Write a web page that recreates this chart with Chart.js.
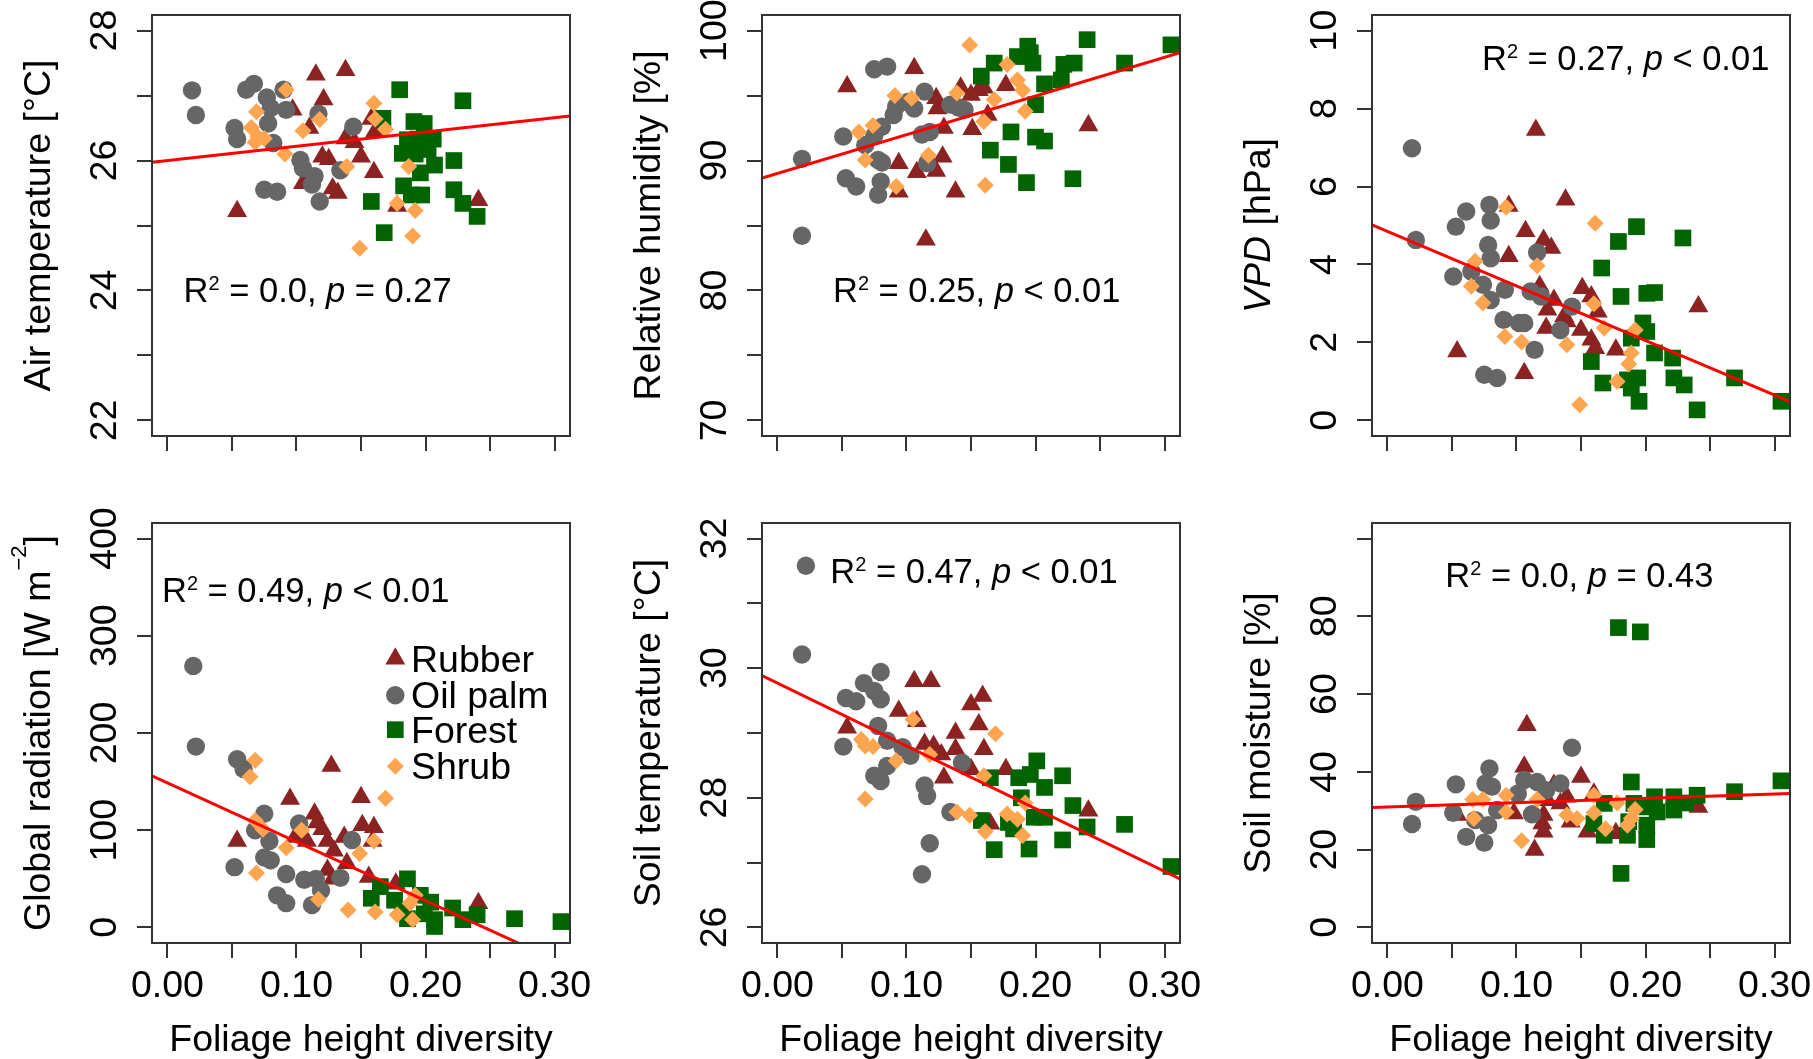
<!DOCTYPE html>
<html><head><meta charset="utf-8">
<script src="https://cdn.jsdelivr.net/npm/chart.js"></script>
<style>
html,body{margin:0;padding:0;background:#fff;}
#wrap{position:relative;width:1813px;height:1059px;overflow:hidden;background:#fff;}
#wrap canvas{position:absolute;}
</style></head>
<body><div id="wrap"></div>
<script>
// ---------------- DATA ----------------
const xLimits = [0, 0.3];
const xTicks = [0, 0.05, 0.10, 0.15, 0.20, 0.25, 0.30];
const xTickLabels = ['0.00', '', '0.10', '', '0.20', '', '0.30'];
const xTitle = 'Foliage height diversity';
const seriesNames = ['Rubber', 'Oil palm', 'Forest', 'Shrub'];

// Air temperature
const airLim = [22, 28];
const airTicks = [22, 23, 24, 25, 26, 27, 28];
const airTickLabels = ['22', '', '24', '', '26', '', '28'];
const airFit = [26.0, 2.2];
const airRubber = [[0.054,25.22],[0.115,27.32],[0.138,27.39],[0.121,26.94],[0.097,26.78],[0.110,26.50],[0.120,26.06],[0.125,26.02],[0.150,26.06],[0.160,25.82],[0.105,25.65],[0.128,25.57],[0.132,25.50],[0.138,26.34],[0.145,26.28],[0.158,26.64],[0.161,26.45],[0.178,25.30],[0.241,25.39]];
const airOilPalm = [[0.019,27.08],[0.022,26.70],[0.052,26.50],[0.054,26.33],[0.061,27.09],[0.067,27.18],[0.077,26.97],[0.080,26.81],[0.078,26.57],[0.082,26.27],[0.090,27.09],[0.092,26.78],[0.075,25.55],[0.085,25.52],[0.103,26.01],[0.105,25.88],[0.114,25.76],[0.112,25.63],[0.118,25.37],[0.117,26.72],[0.134,25.85],[0.144,26.52]];
const airForest = [[0.180,27.09],[0.229,26.92],[0.167,26.65],[0.191,26.60],[0.199,26.57],[0.186,26.32],[0.194,26.33],[0.206,26.33],[0.182,26.11],[0.192,26.10],[0.202,26.17],[0.222,26.00],[0.207,25.93],[0.196,25.81],[0.183,25.61],[0.189,25.47],[0.197,25.47],[0.222,25.55],[0.229,25.34],[0.240,25.14],[0.158,25.37],[0.168,24.89]];
const airShrub = [[0.092,27.09],[0.069,26.75],[0.065,26.51],[0.070,26.37],[0.068,26.28],[0.075,26.34],[0.105,26.46],[0.118,26.63],[0.091,26.10],[0.139,25.91],[0.160,26.88],[0.161,26.64],[0.169,26.48],[0.187,25.91],[0.178,25.34],[0.192,25.23],[0.190,24.84],[0.149,24.65]];

// Relative humidity
const rhLim = [70, 100];
const rhTicks = [70, 75, 80, 85, 90, 95, 100];
const rhTickLabels = ['70', '', '80', '', '90', '', '100'];
const rhFit = [89.0, 29.8];
const rhRubber = [[0.054,95.7],[0.106,97.1],[0.123,94.8],[0.124,94.0],[0.129,92.5],[0.094,89.8],[0.108,89.1],[0.123,89.2],[0.128,90.3],[0.094,87.6],[0.138,87.6],[0.115,83.9],[0.142,95.6],[0.150,95.05],[0.156,95.4],[0.160,95.6],[0.151,92.4],[0.163,93.5],[0.177,95.8],[0.241,92.7]];
const rhOilPalm = [[0.019,90.13],[0.019,84.21],[0.051,91.85],[0.053,88.64],[0.061,88.0],[0.075,97.03],[0.085,97.23],[0.068,91.2],[0.075,91.9],[0.081,92.6],[0.078,90.05],[0.081,89.85],[0.080,88.38],[0.078,87.36],[0.090,93.5],[0.092,94.15],[0.101,94.5],[0.106,94.0],[0.114,95.3],[0.112,92.0],[0.118,92.2],[0.116,89.8],[0.134,94.3],[0.145,93.9],[0.140,94.1]];
const rhForest = [[0.158,96.5],[0.168,97.5],[0.186,98.0],[0.194,98.8],[0.196,98.3],[0.198,97.5],[0.240,99.3],[0.305,98.9],[0.269,97.5],[0.222,97.4],[0.230,97.5],[0.220,96.2],[0.207,95.9],[0.200,94.3],[0.181,92.2],[0.200,91.8],[0.207,91.5],[0.165,90.8],[0.179,89.7],[0.193,88.3],[0.229,88.6]];
const rhShrub = [[0.149,98.9],[0.178,97.4],[0.186,96.2],[0.190,95.4],[0.168,94.7],[0.139,95.2],[0.091,95.0],[0.104,94.8],[0.063,92.2],[0.074,92.7],[0.068,90.05],[0.117,90.4],[0.092,88.0],[0.160,93.0],[0.192,93.8],[0.161,88.1]];

// VPD
const vpdLim = [0, 10];
const vpdTicks = [0, 2, 4, 6, 8, 10];
const vpdTickLabels = ['0', '2', '4', '6', '8', '10'];
const vpdFit = [4.85, -14.0];
const vpdRubber = [[0.115,7.45],[0.138,5.66],[0.094,5.50],[0.107,4.85],[0.121,4.63],[0.127,4.42],[0.094,4.21],[0.118,3.44],[0.054,1.77],[0.106,1.21],[0.151,3.39],[0.158,3.18],[0.163,2.79],[0.124,2.84],[0.129,3.09],[0.123,2.37],[0.137,2.67],[0.139,2.54],[0.150,2.32],[0.158,2.07],[0.161,1.85],[0.177,1.81],[0.241,2.92]];
const vpdOilPalm = [[0.019,6.98],[0.022,4.63],[0.053,4.97],[0.061,5.36],[0.079,5.53],[0.080,5.13],[0.078,4.50],[0.080,4.16],[0.051,3.69],[0.065,3.82],[0.074,3.48],[0.080,3.09],[0.091,3.35],[0.090,2.58],[0.102,2.50],[0.106,2.50],[0.114,1.81],[0.075,1.17],[0.085,1.09],[0.116,4.31],[0.111,3.31],[0.119,3.18],[0.134,2.32],[0.143,2.92]];
const vpdForest = [[0.193,4.97],[0.179,4.59],[0.229,4.68],[0.166,3.91],[0.181,3.18],[0.201,3.26],[0.207,3.28],[0.198,2.50],[0.201,2.28],[0.189,2.11],[0.207,1.73],[0.221,1.60],[0.158,1.51],[0.222,1.09],[0.230,0.91],[0.167,0.96],[0.186,1.04],[0.194,1.09],[0.189,0.83],[0.195,0.49],[0.240,0.27],[0.269,1.09],[0.305,0.49]];
const vpdShrub = [[0.092,5.47],[0.161,5.06],[0.068,4.08],[0.116,3.97],[0.065,3.44],[0.074,3.01],[0.091,2.15],[0.104,2.01],[0.139,1.94],[0.160,2.99],[0.168,2.37],[0.192,2.32],[0.189,1.73],[0.187,1.45],[0.178,1.00],[0.149,0.40]];

// Global radiation
const radLim = [0, 400];
const radTicks = [0, 100, 200, 300, 400];
const radTickLabels = ['0', '100', '200', '300', '400'];
const radFit = [148.7, -606];
const radRubber = [[0.127,166],[0.095,132],[0.150,134],[0.054,89],[0.114,117],[0.116,108],[0.120,101],[0.124,89],[0.129,79],[0.151,105],[0.160,103],[0.137,93],[0.159,89],[0.099,93],[0.108,89],[0.124,59],[0.128,50],[0.139,66],[0.156,52],[0.177,45],[0.241,25]];
const radOilPalm = [[0.020,269],[0.022,186],[0.054,173],[0.059,163],[0.075,117],[0.068,100],[0.079,89],[0.052,62],[0.075,72],[0.080,69],[0.092,55],[0.085,33],[0.092,25],[0.102,107],[0.106,49],[0.115,50],[0.119,38],[0.112,23],[0.134,51],[0.143,90]];
const radForest = [[0.158,30],[0.186,50],[0.165,42],[0.176,28],[0.182,18],[0.186,9],[0.196,33],[0.204,26],[0.199,14],[0.207,8],[0.207,1],[0.221,20],[0.229,8],[0.240,13],[0.269,9],[0.305,6]];
const radShrub = [[0.068,172],[0.064,155],[0.169,133],[0.068,110],[0.074,101],[0.104,100],[0.092,82],[0.149,76],[0.160,89],[0.069,56],[0.117,29],[0.140,18],[0.161,16],[0.178,13],[0.188,25],[0.190,8],[0.192,33]];

// Soil temperature
const stLim = [26, 32];
const stTicks = [26, 27, 28, 29, 30, 31, 32];
const stTickLabels = ['26', '', '28', '', '30', '', '32'];
const stFit = [29.77, -9.68];
const stRubber = [[0.106,29.80],[0.119,29.80],[0.150,29.44],[0.159,29.57],[0.094,29.34],[0.054,29.08],[0.108,29.18],[0.138,29.00],[0.156,29.13],[0.114,28.83],[0.121,28.80],[0.127,28.67],[0.138,28.75],[0.160,28.75],[0.129,28.31],[0.150,28.44],[0.177,28.44],[0.165,27.60],[0.241,27.80]];
const stOilPalm = [[0.019,30.21],[0.022,31.58],[0.080,29.94],[0.067,29.77],[0.075,29.65],[0.080,29.52],[0.053,29.54],[0.061,29.49],[0.078,29.11],[0.085,28.88],[0.051,28.79],[0.075,28.34],[0.080,28.26],[0.085,28.49],[0.097,28.78],[0.103,28.65],[0.114,28.19],[0.116,28.03],[0.143,28.54],[0.134,27.78],[0.118,27.30],[0.112,26.82]];
const stForest = [[0.201,28.57],[0.221,28.34],[0.187,28.31],[0.196,28.36],[0.207,28.16],[0.165,28.31],[0.189,28.00],[0.229,27.88],[0.199,27.70],[0.207,27.70],[0.158,27.65],[0.179,27.62],[0.183,27.52],[0.240,27.55],[0.269,27.59],[0.221,27.35],[0.168,27.20],[0.195,27.21],[0.305,26.94]];
const stShrub = [[0.105,29.21],[0.169,28.99],[0.065,28.90],[0.068,28.80],[0.074,28.79],[0.092,28.57],[0.068,27.98],[0.118,28.67],[0.160,28.34],[0.139,27.78],[0.149,27.73],[0.161,27.48],[0.178,27.75],[0.186,27.67],[0.192,27.92],[0.190,27.42]];

// Soil moisture
const smLim = [0, 100];
const smTicks = [0, 20, 40, 60, 80, 100];
const smTickLabels = ['0', '20', '40', '60', '80', ''];
const smFit = [30.98, 11.1];
const smRubber = [[0.108,52.0],[0.106,41.3],[0.150,38.7],[0.129,36.6],[0.139,33.6],[0.160,34.4],[0.124,32.7],[0.134,31.9],[0.054,28.9],[0.098,29.3],[0.121,28.9],[0.120,26.7],[0.121,24.6],[0.114,19.9],[0.142,27.2],[0.155,24.6],[0.177,24.2],[0.241,31.0]];
const smOilPalm = [[0.019,26.6],[0.022,32.3],[0.053,36.8],[0.051,29.5],[0.061,23.3],[0.075,21.8],[0.079,40.9],[0.076,37.0],[0.081,36.2],[0.068,27.6],[0.078,26.3],[0.085,30.2],[0.101,34.4],[0.106,37.9],[0.116,37.4],[0.123,35.3],[0.112,29.1],[0.134,37.0],[0.143,46.2]];
const smForest = [[0.179,77.1],[0.196,76.0],[0.305,37.7],[0.189,37.4],[0.269,34.9],[0.240,34.0],[0.222,33.6],[0.231,32.0],[0.207,33.6],[0.201,31.0],[0.209,29.7],[0.191,31.9],[0.168,31.9],[0.222,30.2],[0.160,26.7],[0.187,27.2],[0.201,26.3],[0.168,23.7],[0.186,23.7],[0.201,22.6],[0.181,13.9]];
const smShrub = [[0.066,32.9],[0.074,32.9],[0.092,34.0],[0.067,28.0],[0.092,29.7],[0.116,32.9],[0.104,22.3],[0.139,28.9],[0.147,28.0],[0.160,34.0],[0.160,29.5],[0.169,25.4],[0.178,32.0],[0.192,30.3],[0.189,28.0],[0.186,26.3]];

// ---------------- STYLE / LAYOUT ----------------
const FAMILY = "'Liberation Sans', Arial, Helvetica, sans-serif";
const AXIS_COLOR = '#333333';
const TICK_SIZE = 37.5;
const TITLE_SIZE = 37.5;
const LEGEND_SIZE = 37.5;
const R2_SIZE = 34.5;
const seriesStyles = [
  {color:'#8B2323', pointStyle:'triangle', radius:11.5},
  {color:'#666666', pointStyle:'circle', radius:9.2},
  {color:'#006400', pointStyle:'rect', radius:11.8},
  {color:'#FFA54F', pointStyle:'rectRot', radius:8.5}
];
const plotLefts = [152, 762, 1372];
const plotWidth = 418;
const plotTops = [15, 523];
const plotHeights = [421, 420];
const canvasTops = [0, 505];
const canvasHeights = [500, 554];
const yAxisWidth = 152;
const canvasWidth = 590;

const panels = [
  {col:0,row:0,series:[airRubber,airOilPalm,airForest,airShrub],lim:airLim,ticks:airTicks,labels:airTickLabels,fit:airFit,r2:'0.0',p:'= 0.27',r2At:[31.6,286.7],
   title:[{t:'Air temperature [°C]'}]},
  {col:1,row:0,series:[rhRubber,rhOilPalm,rhForest,rhShrub],lim:rhLim,ticks:rhTicks,labels:rhTickLabels,fit:rhFit,r2:'0.25',p:'< 0.01',r2At:[71,286.7],
   title:[{t:'Relative humidity [%]'}]},
  {col:2,row:0,series:[vpdRubber,vpdOilPalm,vpdForest,vpdShrub],lim:vpdLim,ticks:vpdTicks,labels:vpdTickLabels,fit:vpdFit,r2:'0.27',p:'< 0.01',r2At:[110,55],
   title:[{t:'VPD',it:true},{t:' [hPa]'}]},
  {col:0,row:1,series:[radRubber,radOilPalm,radForest,radShrub],lim:radLim,ticks:radTicks,labels:radTickLabels,fit:radFit,r2:'0.49',p:'< 0.01',r2At:[10,78.7],
   title:[{t:'Global radiation [W m'},{t:'\u22122',sup:true,size:22,raise:24},{t:']'}], legend:true},
  {col:1,row:1,series:[stRubber,stOilPalm,stForest,stShrub],lim:stLim,ticks:stTicks,labels:stTickLabels,fit:stFit,r2:'0.47',p:'< 0.01',r2At:[68.3,59.7],
   title:[{t:'Soil temperature [°C]'}]},
  {col:2,row:1,series:[smRubber,smOilPalm,smForest,smShrub],lim:smLim,ticks:smTicks,labels:smTickLabels,fit:smFit,r2:'0.0',p:'= 0.43',r2At:[73.3,63.7],
   title:[{t:'Soil moisture [%]'}]}
];

function expand(lim){ const d = (lim[1]-lim[0])*0.04; return [lim[0]-d, lim[1]+d]; }

const measureCtx = document.createElement('canvas').getContext('2d');
function widestLabel(labels, size){
  measureCtx.font = size + 'px ' + FAMILY;
  return Math.max(...labels.map(l => measureCtx.measureText(l).width));
}

function richWidth(ctx, parts, base){
  let w = 0;
  parts.forEach(p => {
    ctx.font = (p.it?'italic ':'') + (p.sup ? p.size : base) + 'px ' + FAMILY;
    w += ctx.measureText(p.t).width;
  });
  return w;
}
function drawRich(ctx, parts, x, y, base){
  let cx = x;
  parts.forEach(p => {
    ctx.font = (p.it?'italic ':'') + (p.sup ? p.size : base) + 'px ' + FAMILY;
    ctx.fillText(p.t, cx, y - (p.sup ? p.raise : 0));
    cx += ctx.measureText(p.t).width;
  });
}
function drawMarker(ctx, st, x, y){
  if (Chart.helpers && Chart.helpers.drawPoint) {
    ctx.fillStyle = st.color;
    Chart.helpers.drawPoint(ctx, {pointStyle: st.pointStyle, radius: st.radius, rotation: 0, borderWidth: 0}, x, y);
    return;
  }
  const r = st.radius;
  ctx.fillStyle = st.color; ctx.beginPath();
  if (st.pointStyle === 'circle') ctx.arc(x, y, r, 0, 2*Math.PI);
  else if (st.pointStyle === 'triangle') { ctx.moveTo(x, y-r); ctx.lineTo(x+r*Math.sin(2*Math.PI/3), y-r*Math.cos(2*Math.PI/3)); ctx.lineTo(x+r*Math.sin(4*Math.PI/3), y-r*Math.cos(4*Math.PI/3)); }
  else if (st.pointStyle === 'rect') { const s = r*Math.SQRT1_2; ctx.rect(x-s, y-s, 2*s, 2*s); }
  else { ctx.moveTo(x-r, y); ctx.lineTo(x, y-r); ctx.lineTo(x+r, y); ctx.lineTo(x, y+r); }
  ctx.closePath(); ctx.fill();
}

const wrap = document.getElementById('wrap');
const [xMin, xMax] = expand(xLimits);

panels.forEach(pn => {
  const canvas = document.createElement('canvas');
  canvas.width = canvasWidth;
  canvas.height = canvasHeights[pn.row];
  canvas.style.left = (plotLefts[pn.col] - yAxisWidth) + 'px';
  canvas.style.top = canvasTops[pn.row] + 'px';
  wrap.appendChild(canvas);

  const padTop = plotTops[pn.row] - canvasTops[pn.row];
  const xAxisH = canvasHeights[pn.row] - padTop - plotHeights[pn.row];
  const [yMin, yMax] = expand(pn.lim);
  const yPad = 46 - 15 - widestLabel(pn.labels, TICK_SIZE) / 2;

  const datasets = [{
    label: 'fit',
    data: [{x: xMin, y: pn.fit[0] + pn.fit[1]*xMin}, {x: xMax, y: pn.fit[0] + pn.fit[1]*xMax}],
    showLine: true, borderColor: '#FF0000', borderWidth: 3, pointRadius: 0, order: 0
  }];
  seriesStyles.forEach((s, k) => {
    datasets.push({
      label: seriesNames[k],
      data: pn.series[k].map(([x, y]) => ({x, y})),
      pointStyle: s.pointStyle, pointRadius: s.radius,
      pointBackgroundColor: s.color, backgroundColor: s.color,
      pointBorderWidth: 0, borderWidth: 0, order: 4 - k
    });
  });

  const deco = {
    id: 'deco',
    afterDraw(chart) {
      const ctx = chart.ctx, ca = chart.chartArea;
      ctx.save();
      ctx.strokeStyle = AXIS_COLOR; ctx.lineWidth = 2;
      ctx.strokeRect(ca.left, ca.top, ca.right - ca.left, ca.bottom - ca.top);
      ctx.fillStyle = '#000'; ctx.textBaseline = 'alphabetic'; ctx.textAlign = 'left';
      drawRich(ctx, [{t:'R'},{t:'2',sup:true,size:20,raise:12},{t:' = ' + pn.r2 + ', '},{t:'p',it:true},{t:' ' + pn.p}],
        ca.left + pn.r2At[0], ca.top + pn.r2At[1], R2_SIZE);
      ctx.save();
      ctx.translate(ca.left - 102, (ca.top + ca.bottom) / 2);
      ctx.rotate(-Math.PI / 2);
      const w = richWidth(ctx, pn.title, TITLE_SIZE);
      drawRich(ctx, pn.title, -w / 2, 0, TITLE_SIZE);
      ctx.restore();
      if (pn.legend) {
        const base = [148.7, 185.3, 219.7, 256.3];
        seriesStyles.forEach((s, k) => {
          drawMarker(ctx, s, ca.left + 243.3, ca.top + base[k] - 13);
          ctx.fillStyle = '#000';
          ctx.font = LEGEND_SIZE + 'px ' + FAMILY;
          ctx.fillText(seriesNames[k], ca.left + 259, ca.top + base[k]);
        });
      }
      ctx.restore();
    }
  };

  new Chart(canvas, {
    type: 'scatter',
    data: {datasets},
    options: {
      responsive: false, animation: false, events: [],
      layout: {padding: {left: 0, right: canvasWidth - yAxisWidth - plotWidth, top: padTop, bottom: 0}},
      plugins: {legend: {display: false}, tooltip: {enabled: false}},
      scales: {
        x: {
          type: 'linear', position: 'bottom', min: xMin, max: xMax,
          afterBuildTicks: s => { s.ticks = xTicks.map(v => ({value: v})); },
          afterFit: s => { s.height = xAxisH; s.paddingLeft = 0; s.paddingRight = 0; },
          ticks: {autoSkip: false, maxRotation: 0, minRotation: 0, padding: 6, color: '#000',
                  font: {family: FAMILY, size: TICK_SIZE},
                  callback: (v, i) => pn.row === 1 ? xTickLabels[i] : ''},
          grid: {drawOnChartArea: false, drawTicks: true, tickLength: 15, color: AXIS_COLOR, lineWidth: 2},
          border: {display: true, color: AXIS_COLOR, width: 2},
          title: {display: pn.row === 1, text: xTitle, color: '#000', font: {family: FAMILY, size: TITLE_SIZE, lineHeight: 1.0}, padding: {top: 0, bottom: 0}}
        },
        y: {
          type: 'linear', position: 'left', min: yMin, max: yMax,
          afterBuildTicks: s => { s.ticks = pn.ticks.map(v => ({value: v})); },
          afterFit: s => { s.width = yAxisWidth; s.paddingTop = 0; s.paddingBottom = 0; },
          ticks: {autoSkip: false, minRotation: 90, maxRotation: 90, crossAlign: 'center', padding: yPad, color: '#000',
                  font: {family: FAMILY, size: TICK_SIZE},
                  callback: (v, i) => pn.labels[i]},
          grid: {drawOnChartArea: false, drawTicks: true, tickLength: 15, color: AXIS_COLOR, lineWidth: 2},
          border: {display: true, color: AXIS_COLOR, width: 2}
        }
      }
    },
    plugins: [deco]
  });
});
</script>
</body></html>
